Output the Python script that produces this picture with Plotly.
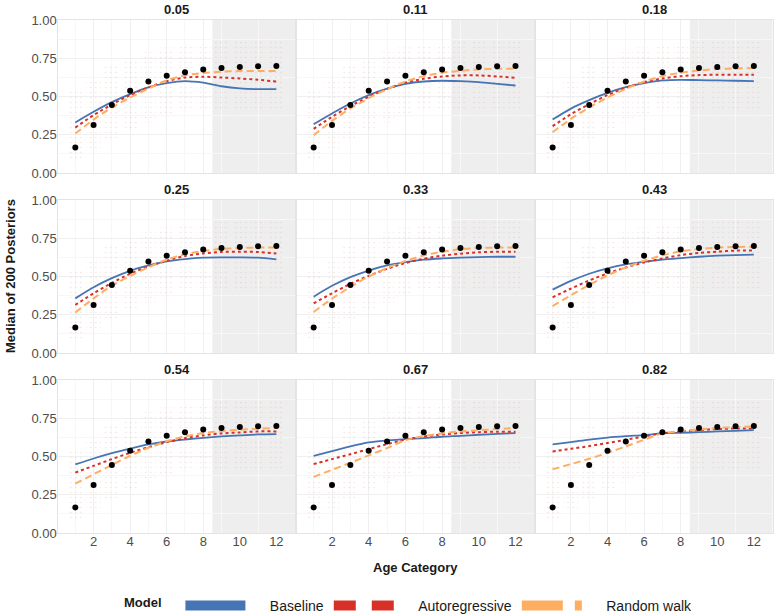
import plotly.graph_objects as go

ages = list(range(1, 13))
panel_titles = ["0.05", "0.11", "0.18", "0.25", "0.33", "0.43", "0.54", "0.67", "0.82"]
observed = [0.167, 0.314, 0.445, 0.538, 0.598, 0.635, 0.659, 0.676, 0.687, 0.692, 0.697, 0.700]

baseline = [
    [0.330, 0.400, 0.463, 0.515, 0.559, 0.587, 0.600, 0.590, 0.567, 0.553, 0.548, 0.548],
    [0.319, 0.389, 0.454, 0.509, 0.552, 0.583, 0.598, 0.603, 0.600, 0.594, 0.583, 0.572],
    [0.349, 0.421, 0.476, 0.524, 0.561, 0.587, 0.605, 0.609, 0.607, 0.605, 0.603, 0.600],
    [0.357, 0.430, 0.489, 0.537, 0.572, 0.599, 0.614, 0.623, 0.625, 0.625, 0.623, 0.612],
    [0.368, 0.439, 0.496, 0.539, 0.572, 0.594, 0.610, 0.618, 0.623, 0.627, 0.629, 0.629],
    [0.414, 0.471, 0.518, 0.553, 0.579, 0.596, 0.610, 0.620, 0.629, 0.636, 0.640, 0.643],
    [0.448, 0.487, 0.522, 0.552, 0.579, 0.598, 0.611, 0.622, 0.631, 0.638, 0.644, 0.646],
    [0.504, 0.535, 0.566, 0.592, 0.605, 0.614, 0.620, 0.629, 0.635, 0.642, 0.648, 0.653],
    [0.579, 0.594, 0.611, 0.624, 0.633, 0.640, 0.651, 0.655, 0.659, 0.664, 0.668, 0.672],
]
autoregressive = [
    [0.297, 0.378, 0.448, 0.509, 0.559, 0.600, 0.624, 0.629, 0.624, 0.618, 0.609, 0.598],
    [0.288, 0.367, 0.437, 0.498, 0.550, 0.590, 0.616, 0.631, 0.638, 0.638, 0.631, 0.622],
    [0.306, 0.384, 0.450, 0.509, 0.557, 0.594, 0.618, 0.633, 0.640, 0.642, 0.642, 0.642],
    [0.314, 0.390, 0.458, 0.518, 0.566, 0.603, 0.634, 0.651, 0.660, 0.662, 0.660, 0.651],
    [0.325, 0.390, 0.452, 0.504, 0.550, 0.588, 0.616, 0.636, 0.649, 0.658, 0.662, 0.662],
    [0.364, 0.421, 0.474, 0.520, 0.559, 0.592, 0.618, 0.640, 0.654, 0.662, 0.669, 0.669],
    [0.395, 0.439, 0.483, 0.524, 0.561, 0.594, 0.620, 0.638, 0.651, 0.657, 0.664, 0.664],
    [0.450, 0.483, 0.515, 0.548, 0.581, 0.611, 0.631, 0.644, 0.653, 0.659, 0.662, 0.662],
    [0.533, 0.550, 0.568, 0.588, 0.609, 0.631, 0.651, 0.664, 0.672, 0.679, 0.683, 0.683],
]
random_walk = [
    [0.258, 0.349, 0.428, 0.493, 0.552, 0.605, 0.638, 0.653, 0.662, 0.666, 0.666, 0.666],
    [0.247, 0.341, 0.421, 0.489, 0.548, 0.598, 0.633, 0.655, 0.668, 0.677, 0.681, 0.681],
    [0.266, 0.354, 0.428, 0.493, 0.550, 0.598, 0.633, 0.655, 0.670, 0.679, 0.683, 0.686],
    [0.265, 0.357, 0.439, 0.504, 0.561, 0.610, 0.645, 0.667, 0.680, 0.686, 0.689, 0.689],
    [0.268, 0.355, 0.432, 0.500, 0.555, 0.601, 0.638, 0.662, 0.678, 0.686, 0.689, 0.689],
    [0.307, 0.377, 0.445, 0.507, 0.559, 0.603, 0.638, 0.664, 0.680, 0.689, 0.693, 0.695],
    [0.323, 0.384, 0.445, 0.504, 0.557, 0.600, 0.631, 0.653, 0.666, 0.675, 0.681, 0.686],
    [0.367, 0.413, 0.459, 0.507, 0.555, 0.607, 0.633, 0.651, 0.664, 0.672, 0.679, 0.686],
    [0.417, 0.450, 0.485, 0.524, 0.566, 0.609, 0.651, 0.666, 0.677, 0.686, 0.692, 0.697],
]
# approximate extent of the posterior-draw clouds per age
cloud_low = [0.08, 0.14, 0.22, 0.28, 0.33, 0.37, 0.40, 0.41, 0.42, 0.42, 0.42, 0.42]
cloud_high = [0.55, 0.62, 0.70, 0.75, 0.79, 0.82, 0.84, 0.85, 0.86, 0.86, 0.86, 0.86]

BLUE = "#4575B4"
RED = "#D73027"
ORANGE = "#FDAE61"
FONT = "Liberation Sans, Arial, sans-serif"

W, H = 776, 616
col_px = [(58.3, 295.2), (296.6, 534.4), (535.6, 772.7)]
row_px = [(20, 173), (200, 353), (380, 533)]
x_range = [0.07, 13.03]

fig = go.Figure()
layout = {}
annotations = []
shapes = []

for i in range(9):
    r, c = divmod(i, 3)
    n = "" if i == 0 else str(i + 1)
    xa, ya = "x" + n, "y" + n
    x0p, x1p = col_px[c]
    y0p, y1p = row_px[r]
    layout["xaxis" + n] = dict(
        domain=[x0p / W, x1p / W], anchor=ya, range=x_range, automargin=False,
        tickvals=[2, 4, 6, 8, 10, 12], showticklabels=(r == 2), ticklabelstandoff=-4,
        showgrid=True, gridcolor="#efefef", gridwidth=1,
        minor=dict(tickvals=[1, 3, 5, 7, 9, 11], showgrid=True, gridcolor="#f7f7f7"),
        zeroline=False, showline=True, mirror=True, linecolor="#e4e4e4", linewidth=1,
        ticks="", tickfont=dict(size=13, color="#4d4d4d", family=FONT),
    )
    layout["yaxis" + n] = dict(
        domain=[1 - y1p / H, 1 - y0p / H], anchor=xa, range=[0, 1], automargin=False,
        tickvals=[0, 0.25, 0.5, 0.75, 1.0], tickformat=".2f", showticklabels=(c == 0),
        ticklabelstandoff=-2,
        showgrid=True, gridcolor="#efefef", gridwidth=1,
        minor=dict(tickvals=[0.125, 0.375, 0.625, 0.875], showgrid=True, gridcolor="#f7f7f7"),
        zeroline=False, showline=True, mirror=True, linecolor="#e4e4e4", linewidth=1,
        ticks="", tickfont=dict(size=13, color="#4d4d4d", family=FONT),
    )
    shapes.append(dict(type="rect", xref=xa, yref=ya, x0=8.5, x1=x_range[1],
                       y0=0, y1=1, fillcolor="#eeeeee", line=dict(width=0), layer="below"))
    annotations.append(dict(text="<b>" + panel_titles[i] + "</b>", xref="paper", yref="paper",
                            x=(x0p + x1p) / 2 / W, y=1 - (y0p - 11) / H, showarrow=False,
                            font=dict(size=13, color="#1a1a1a", family=FONT),
                            xanchor="center", yanchor="middle"))

    fig.add_trace(go.Bar(
        x=ages, y=[h - l for h, l in zip(cloud_high, cloud_low)], base=cloud_low,
        width=0.8, xaxis=xa, yaxis=ya, showlegend=False, hoverinfo="skip",
        marker=dict(color="rgba(255,255,255,0)", line=dict(width=0),
                    pattern=dict(shape=".", fgcolor="rgba(210,120,110,0.45)", size=5,
                                 solidity=0.08, fillmode="overlay")),
    ))
    fig.add_trace(go.Scatter(x=ages, y=baseline[i], mode="lines", xaxis=xa, yaxis=ya,
                             line=dict(color=BLUE, width=1.8, shape="spline", smoothing=0.8),
                             showlegend=False))
    fig.add_trace(go.Scatter(x=ages, y=autoregressive[i], mode="lines", xaxis=xa, yaxis=ya,
                             line=dict(color=RED, width=2, dash="dot", shape="spline", smoothing=0.8),
                             showlegend=False))
    fig.add_trace(go.Scatter(x=ages, y=random_walk[i], mode="lines", xaxis=xa, yaxis=ya,
                             line=dict(color=ORANGE, width=2, dash="7px,4px", shape="spline", smoothing=0.8),
                             showlegend=False))
    fig.add_trace(go.Scatter(x=ages, y=observed, mode="markers", xaxis=xa, yaxis=ya,
                             marker=dict(color="black", size=6, line=dict(width=0)), showlegend=False))

# legend entries
SP = "&nbsp;" * 5
for name, col, dash in [("Baseline", BLUE, "solid"), ("Autoregressive", RED, "22px,16px"),
                        ("Random walk", ORANGE, "41px,12px")]:
    fig.add_trace(go.Scatter(x=[None], y=[None], mode="lines", name=SP + name,
                             line=dict(color=col, width=10, dash=dash), xaxis="x", yaxis="y"))

annotations.append(dict(text="<b>Median of 200 Posteriors</b>", xref="paper", yref="paper",
                        x=10 / W, y=1 - 276 / H, textangle=-90, showarrow=False,
                        font=dict(size=13, color="#1a1a1a", family=FONT),
                        xanchor="center", yanchor="middle"))
annotations.append(dict(text="<b>Age Category</b>", xref="paper", yref="paper",
                        x=415 / W, y=1 - 567 / H, showarrow=False,
                        font=dict(size=13, color="#1a1a1a", family=FONT),
                        xanchor="center", yanchor="middle"))

fig.update_layout(
    template="none",
    width=W, height=H, margin=dict(l=0, r=0, t=0, b=0, autoexpand=False),
    paper_bgcolor="white", plot_bgcolor="white",
    barmode="overlay", font=dict(family=FONT, size=13, color="#1a1a1a"),
    annotations=annotations, shapes=shapes,
    legend=dict(orientation="h", x=122 / W, xanchor="left", y=1 - 606 / H, yanchor="middle",
                title=dict(text="<b>Model</b>   ", side="left", font=dict(size=13)),
                font=dict(size=14, color="#1a1a1a"), itemwidth=60, bgcolor="rgba(0,0,0,0)",
                tracegroupgap=0),
    **layout,
)

fig.write_html("out.html", config={"displayModeBar": False},
               post_script="document.body.style.margin='0';document.body.style.overflow='hidden';")
